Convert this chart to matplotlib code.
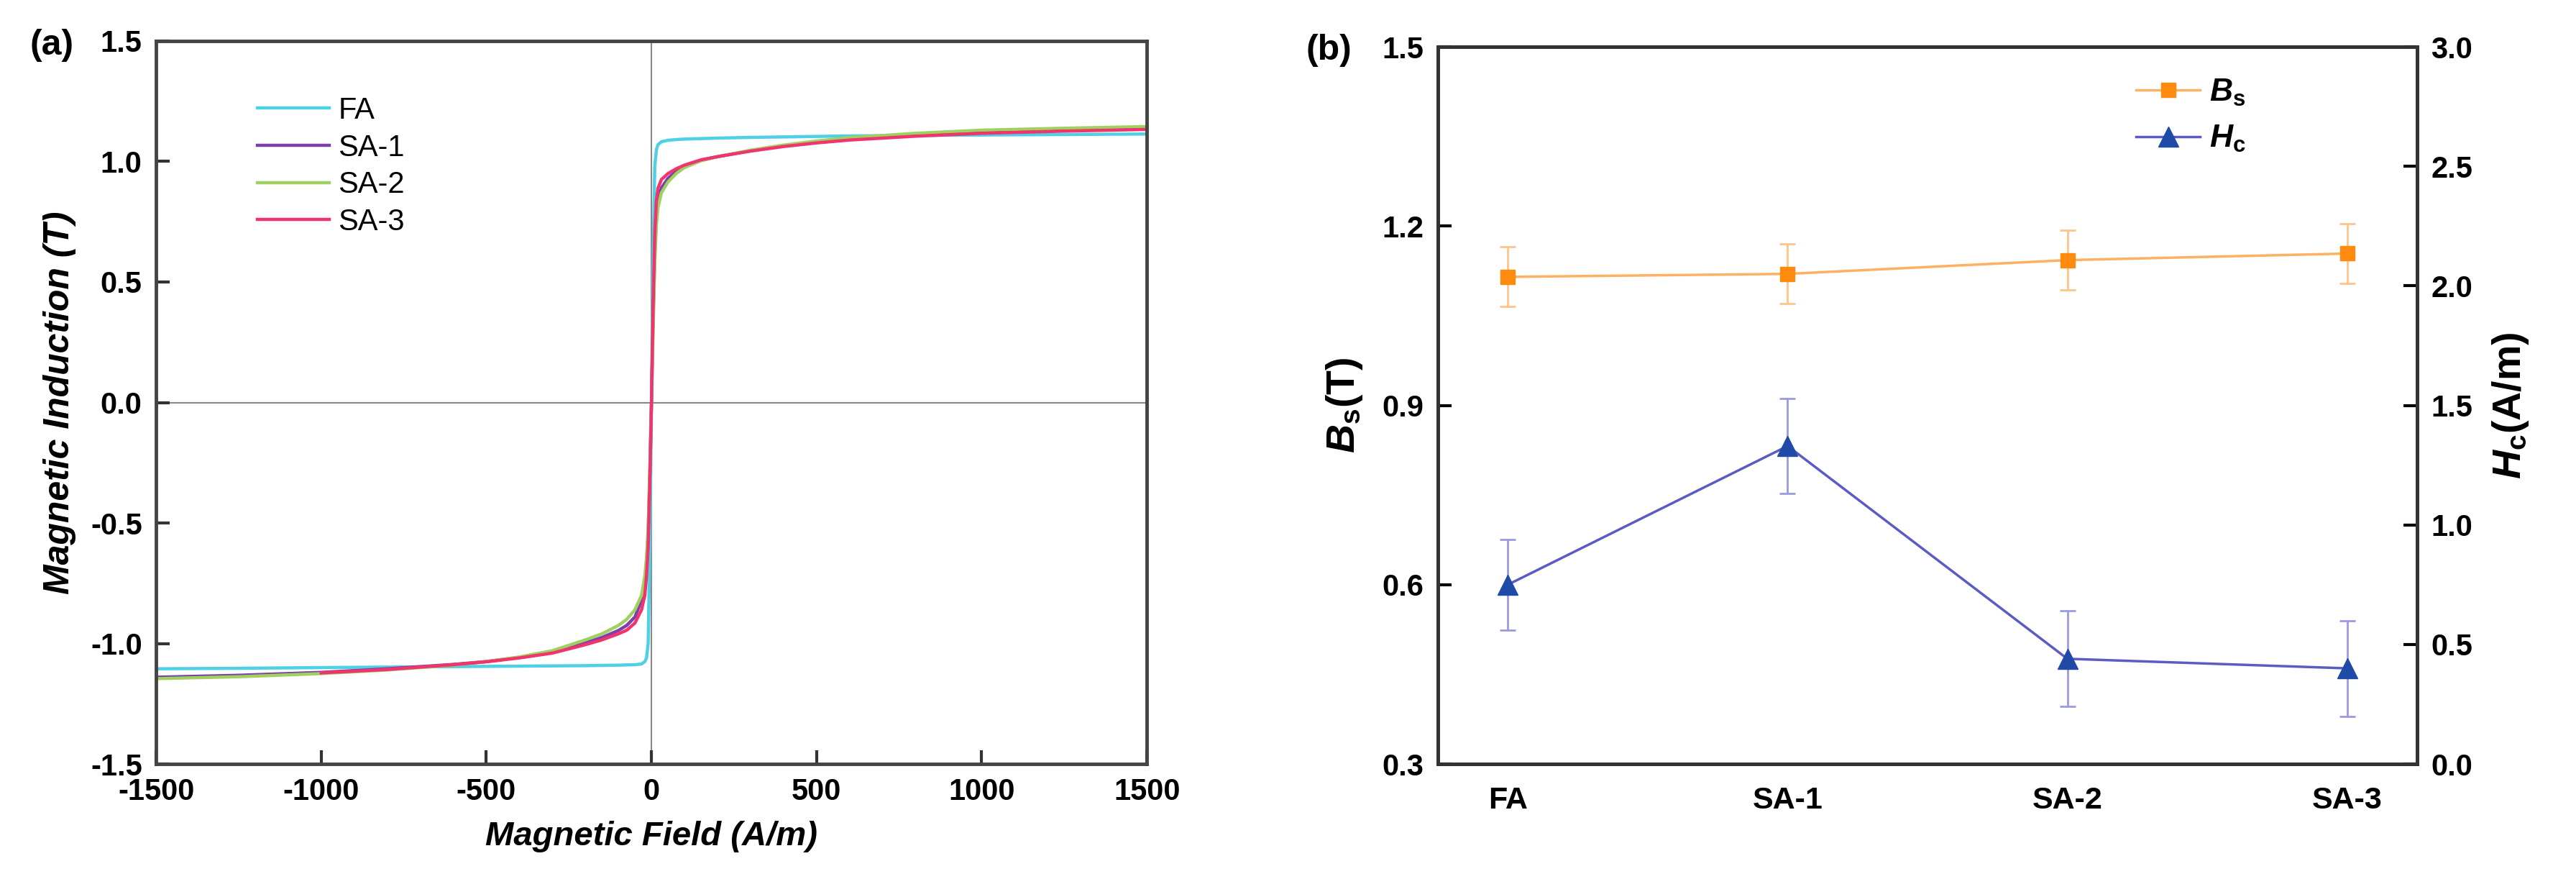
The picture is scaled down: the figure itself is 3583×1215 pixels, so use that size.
import numpy as np
import matplotlib
matplotlib.use("Agg")
import matplotlib.pyplot as plt
from matplotlib.lines import Line2D

plt.rcParams['font.family'] = ['Liberation Sans', 'DejaVu Sans']
plt.rcParams['axes.unicode_minus'] = False
plt.rcParams['mathtext.fontset'] = 'custom'
plt.rcParams['mathtext.it'] = 'Liberation Sans:italic:bold'
plt.rcParams['mathtext.rm'] = 'Liberation Sans:bold'
plt.rcParams['mathtext.bf'] = 'Liberation Sans:bold'

# ---- (a) hysteresis loops ----
field_neg = [-1500, -1250, -1000, -800, -600, -500, -400, -300, -200, -150,
             -100, -75, -50, -30, -20, -15, -10, -5]
field_pos = [0, 5, 10, 15, 20, 30, 50, 75, 100, 150, 200, 300, 400, 500,
             600, 800, 1000, 1250, 1500]
field = field_neg + field_pos

fa_b = [-1.105, -1.103, -1.100, -1.098, -1.096, -1.095, -1.094, -1.093, -1.092, -1.091,
        -1.090, -1.089, -1.088, -1.085, -1.075, -1.06, -1.0, -0.6,
        0, 0.6, 0.98, 1.05, 1.07, 1.082, 1.088, 1.091, 1.093, 1.095, 1.097, 1.100,
        1.102, 1.104, 1.106, 1.108, 1.110, 1.112, 1.114]
sa1_b = [-1.14, -1.132, -1.12, -1.105, -1.087, -1.075, -1.058, -1.036, -0.997, -0.975,
         -0.946, -0.925, -0.89, -0.82, -0.74, -0.66, -0.55, -0.3,
         0, 0.35, 0.62, 0.78, 0.84, 0.89, 0.93, 0.96, 0.98, 1.005, 1.02, 1.045,
         1.065, 1.08, 1.093, 1.11, 1.123, 1.132, 1.138]
sa2_b = [-1.146, -1.138, -1.125, -1.11, -1.09, -1.075, -1.056, -1.03, -0.985, -0.96,
         -0.925, -0.9, -0.86, -0.8, -0.72, -0.64, -0.52, -0.28,
         0, 0.3, 0.58, 0.74, 0.81, 0.87, 0.915, 0.95, 0.975, 1.003, 1.02, 1.047,
         1.068, 1.085, 1.099, 1.117, 1.13, 1.138, 1.145]
sa3_b = [np.nan, np.nan, -1.122, -1.108, -1.088, -1.076, -1.06, -1.04, -1.005, -0.985,
         -0.96, -0.945, -0.915, -0.86, -0.8, -0.72, -0.6, -0.33,
         0, 0.4, 0.7, 0.84, 0.89, 0.925, 0.95, 0.97, 0.985, 1.007, 1.02, 1.043,
         1.062, 1.077, 1.089, 1.105, 1.117, 1.126, 1.133]

loop_names = ['FA', 'SA-1', 'SA-2', 'SA-3']
loop_colors = ['#4fd0e4', '#7d3fa8', '#9fd060', '#f0346e']

# ---- (b) Bs and Hc ----
samples = ['FA', 'SA-1', 'SA-2', 'SA-3']
bs = [1.115, 1.120, 1.143, 1.154]
bs_err = [0.05, 0.05, 0.05, 0.05]
hc = [0.75, 1.33, 0.44, 0.40]
hc_err = [0.19, 0.20, 0.20, 0.20]

fig = plt.figure(figsize=(35.83, 12.15), dpi=100)

# panel a
ax1 = fig.add_axes([0.0606, 0.1259, 0.3846, 0.8272])
ax1.axhline(0, color='#888888', lw=1.5, zorder=1)
ax1.axvline(0, color='#888888', lw=1.5, zorder=1)
for b, name, col in zip([fa_b, sa1_b, sa2_b, sa3_b], loop_names, loop_colors):
    ax1.plot(field, b, color=col, lw=3.2, label=name, zorder=2)
ax1.set_xlim(-1500, 1500)
ax1.set_ylim(-1.5, 1.5)
ax1.set_xticks([-1500, -1000, -500, 0, 500, 1000, 1500])
ax1.set_yticks([-1.5, -1.0, -0.5, 0.0, 0.5, 1.0, 1.5])
ax1.yaxis.set_major_formatter(matplotlib.ticker.FormatStrFormatter('%.1f'))
ax1.tick_params(direction='in', length=14, width=3, labelsize=30, pad=14, color='#333333')
for lab in ax1.get_xticklabels() + ax1.get_yticklabels():
    lab.set_fontweight('bold')
for s in ax1.spines.values():
    s.set_linewidth(3.5)
    s.set_color('#444444')
ax1.set_xlabel('Magnetic Field (A/m)', fontsize=34, fontweight='bold', fontstyle='italic', labelpad=14)
ax1.set_ylabel('Magnetic Induction (T)', fontsize=36, fontweight='bold', fontstyle='italic', labelpad=14)
ax1.legend(loc='upper left', bbox_to_anchor=(0.09, 0.94), frameon=False, fontsize=30,
           handlelength=2.4, handletextpad=0.3, labelspacing=0.28, borderaxespad=0)
fig.text(0.020, 0.948, '(a)', fontsize=36, fontweight='bold', ha='center', va='center')

# panel b
ax2 = fig.add_axes([0.5582, 0.1259, 0.3801, 0.8206])
ax3 = ax2.twinx()
x = np.arange(len(samples))
ax2.errorbar(x, bs, yerr=bs_err, color='#ffb060', ecolor='#ffc488', lw=2.5, elinewidth=2,
             capsize=8, capthick=2, marker='s', ms=15, mfc='#ff8a10', mec='#ff8a10', zorder=3)
ax3.errorbar(x, hc, yerr=hc_err, color='#5b5bc4', ecolor='#9a9ae0', lw=2.5, elinewidth=2,
             capsize=8, capthick=2, marker='^', ms=20, mfc='#1f4aa8', mec='#1f4aa8', zorder=3)
ax2.set_xlim(-0.25, 3.25)
ax2.set_ylim(0.3, 1.5)
ax3.set_ylim(0.0, 3.0)
ax2.set_xticks(x)
ax2.set_xticklabels(samples)
ax2.set_yticks([0.3, 0.6, 0.9, 1.2, 1.5])
ax3.set_yticks([0.0, 0.5, 1.0, 1.5, 2.0, 2.5, 3.0])
ax2.yaxis.set_major_formatter(matplotlib.ticker.FormatStrFormatter('%.1f'))
ax3.yaxis.set_major_formatter(matplotlib.ticker.FormatStrFormatter('%.1f'))
ax2.tick_params(axis='y', direction='in', length=14, width=3, labelsize=30, pad=14)
ax2.tick_params(axis='x', length=0, labelsize=31, pad=22)
ax3.tick_params(axis='y', direction='in', length=14, width=3, labelsize=30, pad=14)
for lab in ax2.get_xticklabels() + ax2.get_yticklabels() + ax3.get_yticklabels():
    lab.set_fontweight('bold')
for a in (ax2, ax3):
    for s in a.spines.values():
        s.set_linewidth(3.5)
        s.set_color('#333333')
ax2.set_ylabel(r'$B_\mathrm{s}\mathrm{(T)}$', fontsize=40, labelpad=18)
ax3.set_ylabel(r'$H_\mathrm{c}\mathrm{(A/m)}$', fontsize=40, labelpad=18)
handles = [Line2D([], [], color='#ffb060', lw=2.5, marker='s', ms=15, mfc='#ff8a10', mec='#ff8a10'),
           Line2D([], [], color='#5b5bc4', lw=2.5, marker='^', ms=20, mfc='#1f4aa8', mec='#1f4aa8')]
ax3.legend(handles, [r'$B_\mathrm{s}$', r'$H_\mathrm{c}$'], loc='upper left',
           bbox_to_anchor=(0.70, 0.975), frameon=False, fontsize=32,
           handlelength=2.0, handletextpad=0.3, labelspacing=0.5, borderaxespad=0)
fig.text(0.516, 0.942, '(b)', fontsize=36, fontweight='bold', ha='center', va='center')

fig.savefig('out.png', dpi=100)
